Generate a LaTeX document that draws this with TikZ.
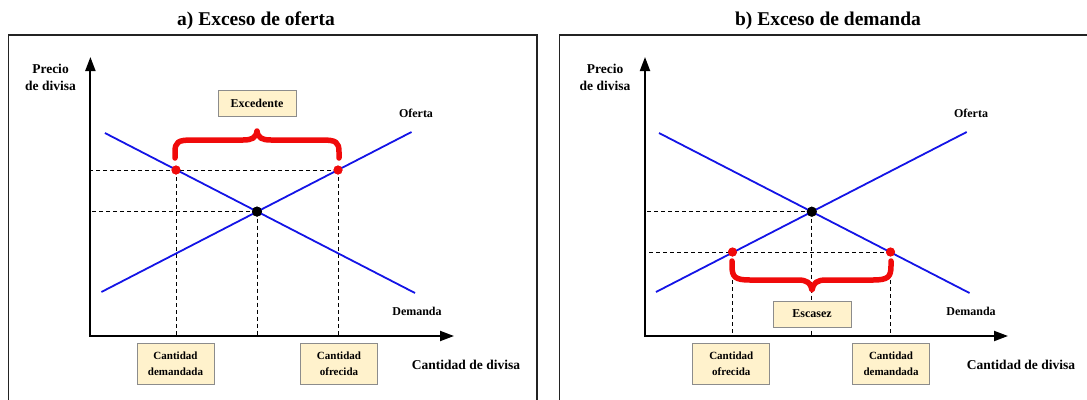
\documentclass[tikz,border=0pt]{standalone}
\usepackage{fontspec}
\setmainfont{Liberation Serif}
\usetikzlibrary{arrows.meta}
\definecolor{boxfill}{RGB}{255,242,204}
\definecolor{boxedge}{RGB}{140,140,140}
\definecolor{curveblue}{RGB}{20,20,230}
\definecolor{dotred}{RGB}{240,10,10}
\definecolor{framegray}{RGB}{35,35,35}
\begin{document}
\begin{tikzpicture}[x=1pt,y=-1pt,
  panelframe/.style={draw=framegray,line width=1.6pt},
  axes/.style={line width=2pt,line join=miter,
    {Triangle[length=14pt,width=10pt]}-{Triangle[length=14pt,width=10pt]}},
  guide/.style={dash pattern=on 4pt off 3pt,line width=1pt},
  curve/.style={draw=curveblue,line width=1.8pt},
  reddot/.style={circle,fill=dotred,inner sep=0pt,minimum size=9pt},
  blackdot/.style={circle,fill=black,inner sep=0pt,minimum size=10pt},
  bracestroke/.style={draw=dotred,line width=5.5pt,line cap=round,line join=round},
  tag/.style={draw=boxedge,fill=boxfill,line width=0.9pt,align=center,inner sep=0pt,
    font=\fontsize{11}{15.5}\selectfont\bfseries,minimum width=77pt,minimum height=41pt},
  smalltag/.style={tag,font=\fontsize{12}{14}\selectfont\bfseries,minimum width=78pt,minimum height=26pt},
  paneltitle/.style={font=\fontsize{19.5}{22}\selectfont\bfseries},
  axlabel/.style={font=\fontsize{13.5}{16.5}\selectfont\bfseries,align=center},
  curvelabel/.style={font=\fontsize{12}{14}\selectfont\bfseries},
]
\useasboundingbox (0,0) rectangle (1087,399);

% ---------------- a) Exceso de oferta ----------------
\node[paneltitle,anchor=base] (titleA) at (256,25) {a) Exceso de oferta};
\draw[panelframe] (8.6,410) -- (8.6,35) -- (537,35) -- (537,410);

\coordinate (aO) at (90.4,336);
\coordinate (aY) at (90.4,57);
\coordinate (aX) at (454,336);
\coordinate (aD1) at (104.9,133);
\coordinate (aD2) at (415,293);
\coordinate (aS1) at (101.4,292);
\coordinate (aS2) at (411.5,132);

\node[reddot] (aQd) at (176,170) {};
\node[reddot] (aQs) at (338,170) {};
\node[blackdot] (aEq) at (257,211.6) {};

% guide lines
\draw[guide] (aQs.center) -- (aQs.center -| aO);
\draw[guide] (aEq.center) -- (aEq.center -| aO);
\draw[guide] (aQd.center) -- (aQd.center |- aO);
\draw[guide] (aEq.center) -- (aEq.center |- aO);
\draw[guide] (aQs.center) -- (aQs.center |- aO);

\draw[axes] (aY) |- (aX);
\draw[curve] (aD1) -- (aD2);
\draw[curve] (aS1) -- (aS2);

\node[reddot] at (aQd) {};
\node[reddot] at (aQs) {};
\node[blackdot] at (aEq) {};

% surplus brace
\draw[bracestroke] (175,158) -- (175,152) .. controls (175,142) and (178,140) .. (192,140)
  -- (243,140) .. controls (252,140) and (256,138) .. (257,131)
  .. controls (258,138) and (262,140) .. (271,140) -- (322,140)
  .. controls (336,140) and (339,142) .. (339,152) -- (339,158);

\node[smalltag] (aSurplus) at (257,103) {Excedente};
\node[axlabel] (aPrice) at (50.5,77.5) {Precio\\de divisa};
\node[curvelabel,anchor=base] (aSupplyLbl) at (416,117) {Oferta};
\node[curvelabel,anchor=base] (aDemandLbl) at (417,315) {Demanda};
\node[tag] (aQdBox) at (175.5,363.5) {Cantidad\\demandada};
\node[tag] (aQsBox) at (339,363.5) {Cantidad\\ofrecida};
\node[axlabel,anchor=base] (aQty) at (466,369) {Cantidad de divisa};

% ---------------- b) Exceso de demanda ----------------
\node[paneltitle,anchor=base] (titleB) at (828,25) {b) Exceso de demanda};
\draw[panelframe] (559.5,410) -- (559.5,35) -- (1100,35);

\coordinate (bO) at (645,336);
\coordinate (bY) at (645,57);
\coordinate (bX) at (1008,336);
\coordinate (bD1) at (659,133);
\coordinate (bD2) at (969.5,293);
\coordinate (bS1) at (656,292);
\coordinate (bS2) at (966.7,132);

\node[reddot] (bQs) at (732.5,252) {};
\node[reddot] (bQd) at (890.5,252) {};
\node[blackdot] (bEq) at (811.8,211.7) {};

% guide lines
\draw[guide] (bEq.center) -- (bEq.center -| bO);
\draw[guide] (bQd.center) -- (bQd.center -| bO);
\draw[guide] (bQs.center) -- (bQs.center |- bO);
\draw[guide] (bEq.center) -- (bEq.center |- bO);
\draw[guide] (bQd.center) -- (bQd.center |- bO);

\draw[axes] (bY) |- (bX);
\draw[curve] (bD1) -- (bD2);
\draw[curve] (bS1) -- (bS2);

\node[reddot] at (bQs) {};
\node[reddot] at (bQd) {};
\node[blackdot] at (bEq) {};

% shortage brace
\draw[bracestroke] (732,261) -- (732,266) .. controls (732,277) and (735,280) .. (750,280)
  -- (798,280) .. controls (807,280) and (811,283) .. (812,290)
  .. controls (813,283) and (817,280) .. (826,280) -- (873,280)
  .. controls (888,280) and (891,277) .. (891,266) -- (891,261);

\node[smalltag] (bShortage) at (812,314) {Escasez};
\node[axlabel] (bPrice) at (605,77.5) {Precio\\de divisa};
\node[curvelabel,anchor=base] (bSupplyLbl) at (971,117) {Oferta};
\node[curvelabel,anchor=base] (bDemandLbl) at (971,315) {Demanda};
\node[tag] (bQsBox) at (731.3,363.5) {Cantidad\\ofrecida};
\node[tag] (bQdBox) at (891,363.5) {Cantidad\\demandada};
\node[axlabel,anchor=base] (bQty) at (1021,369) {Cantidad de divisa};
\end{tikzpicture}
\end{document}
